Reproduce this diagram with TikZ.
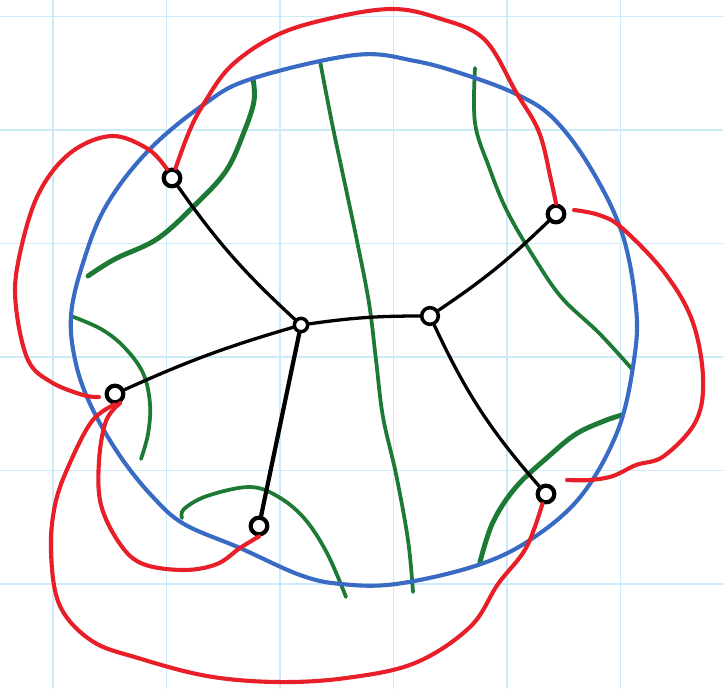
\documentclass[tikz,border=0pt]{standalone}
\definecolor{kred}{RGB}{232,30,40}
\definecolor{kblue}{RGB}{58,107,196}
\definecolor{kgreen}{RGB}{28,122,52}
\definecolor{kgrid}{RGB}{205,234,248}

\begin{document}
\begin{tikzpicture}[x=0.03cm,y=-0.03cm,line cap=round,line join=round,
  gridline/.style={kgrid,line width=1.3pt},
  knot/.style={circle,draw,line width=3.6pt,inner sep=0pt,minimum size=0.5cm},
  hub/.style={circle,draw,line width=3pt,inner sep=0pt,minimum size=0.4cm},
  edge/.style={line width=2.8pt},
  strand/.style={kred,line width=3.5pt},
  band/.style={kgreen,line width=3.2pt},
  rim/.style={kblue,line width=3.5pt}]
  \useasboundingbox (0,0) rectangle (723,688);
  \fill[white] (0,0) rectangle (723,688);
  \foreach \gx in {53,166.5,280,393.5,507,620.5}
    \draw[gridline] (\gx,0) -- (\gx,688);
  \foreach \gy in {16.5,130,243.5,357,470.5,584}
    \draw[gridline] (0,\gy) -- (723,\gy);

  \node[knot] (tl) at (172,178) {};
  \node[knot] (rt) at (556,214) {};
  \node[knot] (lf) at (115,394) {};
  \node[knot] (bl) at (259,526) {};
  \node[knot] (br) at (546,494) {};
  \node[hub] (c1) at (301,325) {};
  \node[hub,minimum size=0.5cm] (c2) at (430,316) {};

  \draw[band,line width=4.2pt] plot[smooth,tension=0.6] coordinates {(253,79) (254,101) (244,132) (226,171) (194,206) (157,239) (115,259) (88,276)};
  \draw[band] plot[smooth,tension=0.6] coordinates {(320,61) (332,123) (346,189) (357,241) (369,303) (376,360) (383,417) (396,474) (408,540) (413,592)};
  \draw[band] plot[smooth,tension=0.6] coordinates {(475,68) (475,123) (489,167) (507,211) (535,259) (562,298) (599,333) (632,369)};
  \draw[band] plot[smooth,tension=0.6] coordinates {(71,316) (101,329) (124,347) (143,373) (150,404) (148,434) (141,459)};
  \draw[band] plot[smooth,tension=0.6] coordinates {(182,518) (184,509) (207,496) (249,487) (277,496) (304,518) (327,553) (346,597)};
  \draw[band,line width=4.2pt] plot[smooth,tension=0.6] coordinates {(622,415) (604,421) (576,434) (549,456) (516,487) (493,522) (480,562)};

  \draw[rim] plot[smooth cycle,tension=0.6] coordinates {(355,55) (251,79) (203,105) (148,151) (106,206) (83,263) (71,316) (76,364) (92,408) (120,456) (152,496) (184,524) (240,548) (300,575) (341,584) (396,584) (475,566) (530,540) (581,496) (618,430) (634,360) (636,307) (622,233) (590,167) (553,118) (516,94) (466,75) (415,61)};

  \draw[strand] plot[smooth,tension=0.6] coordinates {(tl.70) (189,132) (203,105) (231,66) (277,35) (332,18) (392,9) (438,18) (484,39) (516,92) (539,132) (551,180) (rt.north)};
  \draw[strand] plot[smooth,tension=0.6] coordinates {(tl.120) (148,149) (111,136) (69,154) (37,197) (18,263) (16,307) (28,360) (51,382) (83,395) (99,397)};
  \draw[strand] plot[smooth,tension=0.6] coordinates {(lf.south) (92,421) (69,465) (55,505) (51,553) (60,606) (92,641) (138,658) (207,676) (277,682) (346,678) (415,663) (470,627) (498,584) (526,548) (br.250)};
  \draw[strand] plot[smooth,tension=0.6] coordinates {(lf.-60) (106,421) (99,461) (101,505) (120,544) (143,564) (184,570) (217,564) (240,548) (bl.south)};
  \draw[strand] plot[smooth,tension=0.6] coordinates {(574,210) (599,215) (622,228) (664,272) (692,320) (703,377) (696,421) (664,456) (636,465) (613,476) (590,480) (567,480)};

  \draw[edge] (tl) to[bend right=6] (c1);
  \draw[edge] (c1) to[bend right=4] (lf);
  \draw[edge,line width=3.6pt] (c1) -- (bl);
  \draw[edge] (c1) to[bend left=4] (c2);
  \draw[edge] (c2) to[bend right=5] (rt);
  \draw[edge] (c2) to[bend right=8] (br);
\end{tikzpicture}
\end{document}
